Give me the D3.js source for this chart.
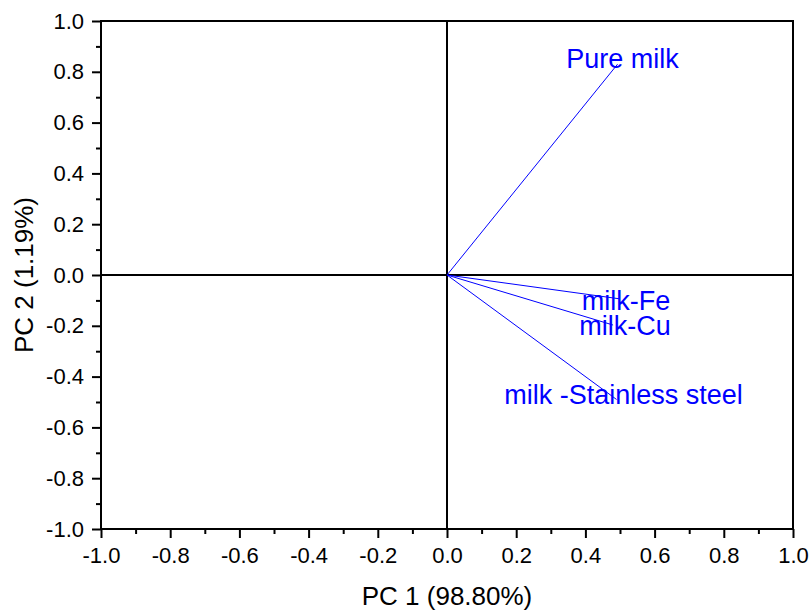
<!DOCTYPE html>
<html>
<head>
<meta charset="utf-8">
<script src="https://cdn.jsdelivr.net/npm/d3@7"></script>
<style>
  body { margin: 0; background: #fff; }
  svg text { font-family: "Liberation Sans", Arial, Helvetica, sans-serif; }
</style>
</head>
<body>
<svg id="chart" width="810" height="611"></svg>
<script>
// loadings
var samples = ["Pure milk", "milk-Fe", "milk-Cu", "milk -Stainless steel"];
var pc1 = [0.493, 0.50, 0.48, 0.49];
var pc2 = [0.83, -0.094, -0.197, -0.49];

var tickValues = [-1.0, -0.8, -0.6, -0.4, -0.2, 0.0, 0.2, 0.4, 0.6, 0.8, 1.0];
var tickLabels = ["-1.0", "-0.8", "-0.6", "-0.4", "-0.2", "0.0", "0.2", "0.4", "0.6", "0.8", "1.0"];
var minorValues = [-0.9, -0.7, -0.5, -0.3, -0.1, 0.1, 0.3, 0.5, 0.7, 0.9];

var xTitle = "PC 1 (98.80%)";
var yTitle = "PC 2 (1.19%)";

var plotLeft = 101, plotRight = 793, plotTop = 21, plotBottom = 529;

// label nudges (px) so the text sits on the vector tips like the original
var labelNudge = [[5, 4], [6, 11], [12, 10], [7, 5]];

var svg = d3.select("#chart");

var x = d3.scaleLinear()
	.domain([-1, 1])
	.range([plotLeft, plotRight]);

var y = d3.scaleLinear()
	.domain([-1, 1])
	.range([plotBottom, plotTop]);

function label(d)
{
	return tickLabels[tickValues.indexOf(d)];
}

// minor ticks first, major axis on top
svg.append("g")
	.attr("transform", "translate(0," + plotBottom + ")")
	.call(d3.axisBottom(x).tickValues(minorValues).tickSize(5).tickFormat(""))
	.call(function(g) { g.select(".domain").remove(); })
	.selectAll("line").attr("stroke-width", 2);

svg.append("g")
	.attr("transform", "translate(" + plotLeft + ",0)")
	.call(d3.axisLeft(y).tickValues(minorValues).tickSize(5).tickFormat(""))
	.call(function(g) { g.select(".domain").remove(); })
	.selectAll("line").attr("stroke-width", 2);

var xAxis = svg.append("g")
	.attr("transform", "translate(0," + plotBottom + ")")
	.call(d3.axisBottom(x).tickValues(tickValues).tickSize(9).tickPadding(9).tickFormat(label));

xAxis.select(".domain").remove();
xAxis.selectAll("line").attr("stroke-width", 2);
xAxis.selectAll("text")
	.attr("font-size", 22)
	.attr("font-family", "Liberation Sans, Arial, sans-serif")
	.attr("fill", "#000");

var yAxis = svg.append("g")
	.attr("transform", "translate(" + plotLeft + ",0)")
	.call(d3.axisLeft(y).tickValues(tickValues).tickSize(9).tickPadding(8).tickFormat(label));

yAxis.select(".domain").remove();
yAxis.selectAll("line").attr("stroke-width", 2);
yAxis.selectAll("text")
	.attr("font-size", 22)
	.attr("font-family", "Liberation Sans, Arial, sans-serif")
	.attr("fill", "#000");

// frame
svg.append("rect")
	.attr("x", plotLeft)
	.attr("y", plotTop)
	.attr("width", plotRight - plotLeft)
	.attr("height", plotBottom - plotTop)
	.attr("fill", "none")
	.attr("stroke", "#000")
	.attr("stroke-width", 2);

// zero lines
svg.append("line")
	.attr("x1", x(0)).attr("x2", x(0))
	.attr("y1", plotTop).attr("y2", plotBottom)
	.attr("stroke", "#000")
	.attr("stroke-width", 2);

svg.append("line")
	.attr("x1", plotLeft).attr("x2", plotRight)
	.attr("y1", y(0)).attr("y2", y(0))
	.attr("stroke", "#000")
	.attr("stroke-width", 2);

// loading vectors
var vectors = samples.map(function(s, i)
{
	return { name: s, x: pc1[i], y: pc2[i], nudge: labelNudge[i] };
});

svg.selectAll(".vector")
	.data(vectors)
	.enter().append("line")
	.attr("class", "vector")
	.attr("x1", x(0))
	.attr("y1", y(0))
	.attr("x2", function(d) { return x(d.x); })
	.attr("y2", function(d) { return y(d.y); })
	.attr("stroke", "#0000ff")
	.attr("stroke-width", 1);

svg.selectAll(".vlabel")
	.data(vectors)
	.enter().append("text")
	.attr("class", "vlabel")
	.attr("x", function(d) { return x(d.x) + d.nudge[0]; })
	.attr("y", function(d) { return y(d.y) + d.nudge[1]; })
	.attr("text-anchor", "middle")
	.attr("font-size", 27)
	.attr("fill", "#0000ff")
	.text(function(d) { return d.name; });

// axis titles
svg.append("text")
	.attr("x", x(0))
	.attr("y", 605)
	.attr("text-anchor", "middle")
	.attr("font-size", 26)
	.attr("fill", "#000")
	.text(xTitle);

svg.append("text")
	.attr("transform", "translate(33," + y(0) + ") rotate(-90)")
	.attr("text-anchor", "middle")
	.attr("font-size", 26)
	.attr("fill", "#000")
	.text(yTitle);
</script>
</body>
</html>
